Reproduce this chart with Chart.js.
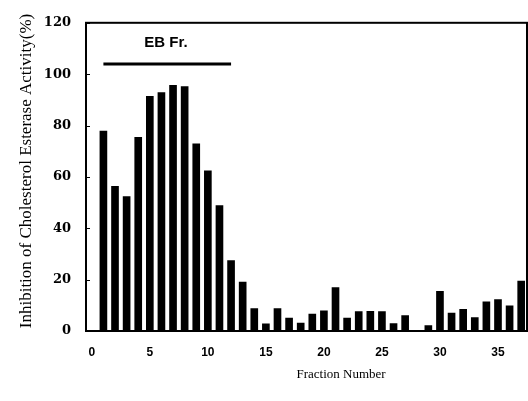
<!DOCTYPE html>
<html>
<head>
<meta charset="utf-8">
<script src="https://cdn.jsdelivr.net/npm/chart.js@4"></script>
<style>
  body { margin: 0; background: #fff; }
  canvas { display: block; }
</style>
</head>
<body>
<canvas id="chart" width="528" height="401"></canvas>
<script>
const fractions = [1, 2, 3, 4, 5, 6, 7, 8, 9, 10, 11, 12, 13, 14, 15, 16, 17, 18, 19,
  20, 21, 22, 23, 24, 25, 26, 27, 28, 29, 30, 31, 32, 33, 34, 35, 36, 37];
const inhibition = [78, 56.5, 52.5, 75.5, 91.5, 93, 95.8, 95.3, 73, 62.5, 49, 27.5, 19.2,
  8.9, 2.9, 8.9, 5.2, 3.2, 6.7, 8.0, 17, 5.2, 7.7, 7.8, 7.7, 3.0, 6.1, 0, 2.2, 15.6,
  7.1, 8.6, 5.4, 11.5, 12.4, 9.9, 19.6];
const xTickStep = 5;
const yTickStep = 20;
const ebLabel = "EB Fr.";
const ebRange = [1, 12];
const ebLevel = 104;

const points = fractions.map((f, i) => ({ x: f, y: inhibition[i] }));

// frame, inner y ticks, EB Fr. bracket and axis titles
const extras = {
  id: "extras",
  afterDraw(chart) {
    const ctx = chart.ctx;
    const area = chart.chartArea;
    const x = chart.scales.x;
    const y = chart.scales.y;
    ctx.save();
    ctx.strokeStyle = "#000";
    ctx.lineWidth = 2;
    ctx.strokeRect(area.left, area.top, area.right - area.left, area.bottom - area.top);

    ctx.lineWidth = 1;
    y.ticks.forEach(t => {
      const py = Math.round(y.getPixelForValue(t.value)) + 0.5;
      ctx.beginPath();
      ctx.moveTo(area.left, py);
      ctx.lineTo(area.left + 4, py);
      ctx.stroke();
    });

    // EB Fr. bar
    ctx.lineWidth = 3;
    const ly = y.getPixelForValue(ebLevel);
    ctx.beginPath();
    ctx.moveTo(x.getPixelForValue(ebRange[0]), ly);
    ctx.lineTo(x.getPixelForValue(ebRange[1]), ly);
    ctx.stroke();
    ctx.fillStyle = "#000";
    ctx.font = "bold 15px 'Liberation Sans', Arial, sans-serif";
    ctx.textAlign = "center";
    ctx.textBaseline = "alphabetic";
    ctx.fillText(ebLabel, 166, 47);

    // axis titles
    ctx.font = "13px 'Liberation Serif', 'Times New Roman', serif";
    ctx.fillText("Fraction Number", 341, 378);
    ctx.font = "17px 'Liberation Serif', 'Times New Roman', serif";
    ctx.translate(31, 171);
    ctx.rotate(-Math.PI / 2);
    ctx.fillText("Inhibition of Cholesterol Esterase Activity(%)", 0, 0);
    ctx.restore();
  }
};

new Chart(document.getElementById("chart"), {
  type: "bar",
  data: {
    datasets: [{
      data: points,
      backgroundColor: "#000",
      borderWidth: 0,
      barPercentage: 0.66,
      categoryPercentage: 1
    }]
  },
  options: {
    responsive: false,
    animation: false,
    layout: { padding: { top: 15, right: 1, left: 0, bottom: 0 } },
    plugins: { legend: { display: false }, tooltip: { enabled: false } },
    scales: {
      x: {
        type: "linear",
        offset: false,
        min: -0.5,
        max: 37.5,
        afterFit: s => { s.height = 70; },
        grid: { display: false, drawTicks: false },
        border: { display: false },
        ticks: {
          stepSize: xTickStep,
          includeBounds: false,
          padding: 14,
          color: "#000",
          maxRotation: 0,
          font: { family: "'Liberation Sans', Arial, sans-serif", size: 12, weight: "bold" }
        }
      },
      y: {
        min: 0,
        max: 120,
        afterFit: s => { s.width = 86; },
        grid: { display: false, drawTicks: false },
        border: { display: false },
        ticks: {
          stepSize: yTickStep,
          padding: 15,
          color: "#000",
          font: { family: "'DejaVu Serif', serif", size: 13, weight: "bold" }
        }
      }
    }
  },
  plugins: [extras]
});
</script>
</body>
</html>
